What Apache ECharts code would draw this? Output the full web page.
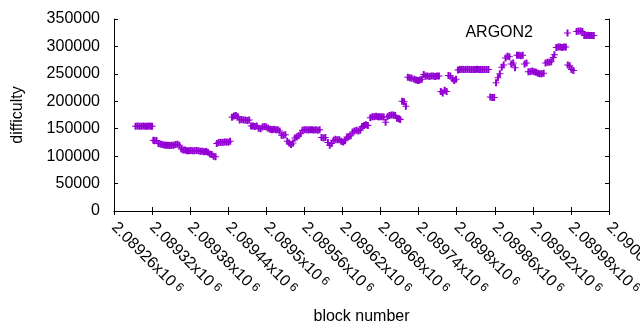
<!DOCTYPE html>
<html>
<head>
<meta charset="utf-8">
<script src="https://cdn.jsdelivr.net/npm/echarts@6/dist/echarts.min.js"></script>
<style>
  html, body { margin: 0; padding: 0; background: #fff; }
  #chart { width: 640px; height: 330px; }
</style>
</head>
<body>
<div id="chart"></div>
<script>
// block numbers (x) and difficulty (y)
const blockNumbers = [
  2089294, 2089297, 2089300, 2089303, 2089306, 2089309, 2089312, 2089315, 2089318, 2089320,
  2089322, 2089324, 2089327, 2089330, 2089333, 2089336, 2089339, 2089342, 2089345, 2089348, 2089351, 2089354, 2089357, 2089360, 2089363,
  2089366, 2089369, 2089372, 2089375, 2089378, 2089381, 2089384, 2089387, 2089390, 2089393, 2089396, 2089399, 2089402, 2089405, 2089408, 2089411, 2089414, 2089417, 2089420,
  2089422, 2089425, 2089428, 2089431, 2089434, 2089437, 2089440, 2089443,
  2089446, 2089449, 2089452, 2089455,
  2089458, 2089461, 2089464, 2089467, 2089470, 2089473,
  2089476, 2089479, 2089482, 2089485,
  2089488, 2089491, 2089494, 2089497, 2089500, 2089503, 2089506, 2089509, 2089512, 2089515, 2089518, 2089521,
  2089524, 2089527, 2089530,
  2089533, 2089536, 2089539, 2089542,
  2089545, 2089548, 2089551, 2089554,
  2089557, 2089560, 2089563, 2089566, 2089569, 2089572, 2089575, 2089578, 2089581, 2089584,
  2089587, 2089590, 2089593,
  2089597, 2089600, 2089603,
  2089606, 2089609, 2089612, 2089615,
  2089618, 2089621, 2089624,
  2089627, 2089630, 2089633,
  2089636, 2089639, 2089642, 2089645, 2089648,
  2089651, 2089654, 2089657, 2089660,
  2089664, 2089667, 2089670, 2089673, 2089676, 2089679, 2089682, 2089685, 2089688, 2089691, 2089694, 2089697, 2089700, 2089703,
  2089706, 2089709, 2089711, 2089714, 2089717, 2089720,
  2089723, 2089726, 2089729,
  2089733, 2089736, 2089739, 2089742, 2089745,
  2089748, 2089751, 2089754, 2089757, 2089760, 2089763, 2089766, 2089769, 2089772,
  2089775, 2089778, 2089781, 2089784,
  2089787, 2089790,
  2089793, 2089796, 2089799,
  2089802, 2089805, 2089808, 2089811, 2089814, 2089817, 2089820, 2089823, 2089826, 2089829, 2089832, 2089835, 2089838, 2089841, 2089844, 2089847, 2089850,
  2089853, 2089856, 2089859,
  2089862, 2089865, 2089868,
  2089871, 2089874,
  2089877, 2089880, 2089883,
  2089886, 2089889, 2089892,
  2089895, 2089898, 2089901, 2089904,
  2089907, 2089910,
  2089913, 2089916, 2089919, 2089922, 2089925, 2089928, 2089931, 2089934, 2089937,
  2089940, 2089943, 2089946, 2089949,
  2089952, 2089954,
  2089957, 2089960, 2089963, 2089966, 2089969, 2089972,
  2089975, 2089978,
  2089981, 2089984,
  2089989, 2089992, 2089995, 2089998,
  2090001, 2090004, 2090007, 2090010, 2090013, 2090016
];

const difficulty = [
  154500, 155000, 154500, 154500, 155000, 154500, 154500, 155000, 154500, 154500,
  129000, 128000, 128500, 123000, 122000, 121000, 120500, 120000, 120000, 119500, 120000, 120000, 121000, 121500, 120000,
  113000, 111000, 111000, 110000, 110000, 110500, 110000, 110000, 110500, 110000, 109000, 109000, 108000, 108500, 107000, 104000, 103000, 100000, 99000,
  123000, 125000, 125500, 125000, 126000, 126000, 125500, 127000,
  171000, 173000, 174000, 172000,
  166000, 167000, 166000, 166000, 165000, 166000,
  155000, 155000, 154000, 155000,
  151000, 150000, 153000, 154000, 153000, 151000, 149000, 148000, 149000, 148000, 148000, 146000,
  138000, 138000, 139000,
  127000, 124000, 121000, 124000,
  133000, 135000, 137000, 141000,
  147000, 148000, 148000, 147500, 148000, 148000, 147500, 148000, 147000, 148000,
  134000, 133000, 134000,
  125000, 120000, 123000,
  129000, 131000, 130000, 130000,
  127000, 126000, 128000,
  135000, 136000, 137000,
  144000, 146000, 147000, 146000, 147000,
  154000, 156000, 157000, 156000,
  170000, 172000, 172000, 172500, 172000, 172000, 172000, 171500, 162000, 172000, 174000, 175000, 175000, 174000,
  169000, 168000, 167000, 200000, 199000, 191000,
  244000, 243000, 242000,
  240000, 239000, 238000, 239000, 240000,
  249000, 246000, 246000, 245000, 246000, 246000, 245000, 246000, 246000,
  218000, 215000, 220000, 218000,
  247000, 246000,
  241000, 238000, 240000,
  257000, 258000, 258500, 258000, 258000, 258500, 258000, 258000, 258000, 258000, 258500, 258000, 258000, 258000, 258000, 258000, 258000,
  208000, 207000, 207000,
  234000, 243000, 250000,
  262000, 266000,
  279000, 282000, 281000,
  268000, 270000, 261000,
  284000, 284000, 283000, 284000,
  268000, 270000,
  254000, 254000, 255000, 254000, 253000, 251000, 250000, 250000, 251000,
  270000, 271000, 271000, 272000,
  280000, 285000,
  298000, 299000, 299000, 298000, 299000, 299000,
  266000, 265000,
  258000, 256000,
  327000, 328000, 328000, 327000,
  320000, 320000, 320500, 320000, 320000, 320000
];

const seriesName = 'ARGON2';
const xMin = 2089260, xMax = 2090040, xStep = 60;
const yMin = 0, yMax = 350000, yStep = 50000;

const points = blockNumbers.map((b, i) => [b, difficulty[i]]);
const purple = '#9400d3';
// gnuplot style "+" point; stem a bit wider so runs of points merge
const plusPath = 'path://M25,0H45V30H70V40H45V70H25V40H0V30H25Z';
const font = 'Liberation Sans';

const xLabel = (v) => {
  const m = parseFloat((v / 1e6).toFixed(5));
  return '{a|' + m + 'x10}{b| 6}';
};

const chart = echarts.init(document.getElementById('chart'), null, { renderer: 'canvas' });

const tickInside = { show: true, inside: true, length: 4, lineStyle: { color: '#000', width: 1 } };
const blackLine = { show: true, lineStyle: { color: '#000', width: 1 } };

chart.setOption({
  animation: false,
  backgroundColor: '#fff',
  textStyle: { fontFamily: font },
  grid: { left: 114, right: 31, top: 19, bottom: 119, containLabel: false, outerBoundsMode: 'none' },
  legend: {
    data: [seriesName],
    right: 64,
    top: 20,
    align: 'right',
    itemWidth: 7,
    itemHeight: 7,
    icon: plusPath,
    textStyle: { fontFamily: font, fontSize: 16, color: '#000', padding: [0, 26, 0, 0] }
  },
  xAxis: [
    {
      type: 'value', min: xMin, max: xMax, interval: xStep,
      name: 'block number', nameLocation: 'middle', nameGap: 98,
      nameTextStyle: { fontFamily: font, fontSize: 16, color: '#000' },
      axisLine: blackLine, axisTick: tickInside, splitLine: { show: false },
      axisLabel: {
        rotate: -45, margin: 14, color: '#000',
        formatter: xLabel,
        rich: {
          a: { fontFamily: font, fontSize: 16, color: '#000' },
          b: { fontFamily: font, fontSize: 12, color: '#000', verticalAlign: 'top' }
        }
      }
    },
    {
      type: 'value', min: xMin, max: xMax, interval: xStep, position: 'top',
      axisLine: blackLine, axisTick: tickInside, axisLabel: { show: false }, splitLine: { show: false }
    }
  ],
  yAxis: [
    {
      type: 'value', min: yMin, max: yMax, interval: yStep,
      name: 'difficulty', nameLocation: 'middle', nameGap: 88, nameRotate: 90,
      nameTextStyle: { fontFamily: font, fontSize: 16, color: '#000' },
      axisLine: blackLine, axisTick: tickInside, splitLine: { show: false },
      axisLabel: { margin: 14, color: '#000', fontFamily: font, fontSize: 16, formatter: (v) => String(v) }
    },
    {
      type: 'value', min: yMin, max: yMax, interval: yStep, position: 'right',
      axisLine: blackLine, axisTick: tickInside, axisLabel: { show: false }, splitLine: { show: false }
    }
  ],
  series: [
    {
      name: seriesName,
      type: 'scatter',
      data: points,
      symbol: plusPath,
      symbolSize: 7,
      itemStyle: { color: purple, opacity: 1 },
      emphasis: { disabled: true }
    }
  ]
});
</script>
</body>
</html>
